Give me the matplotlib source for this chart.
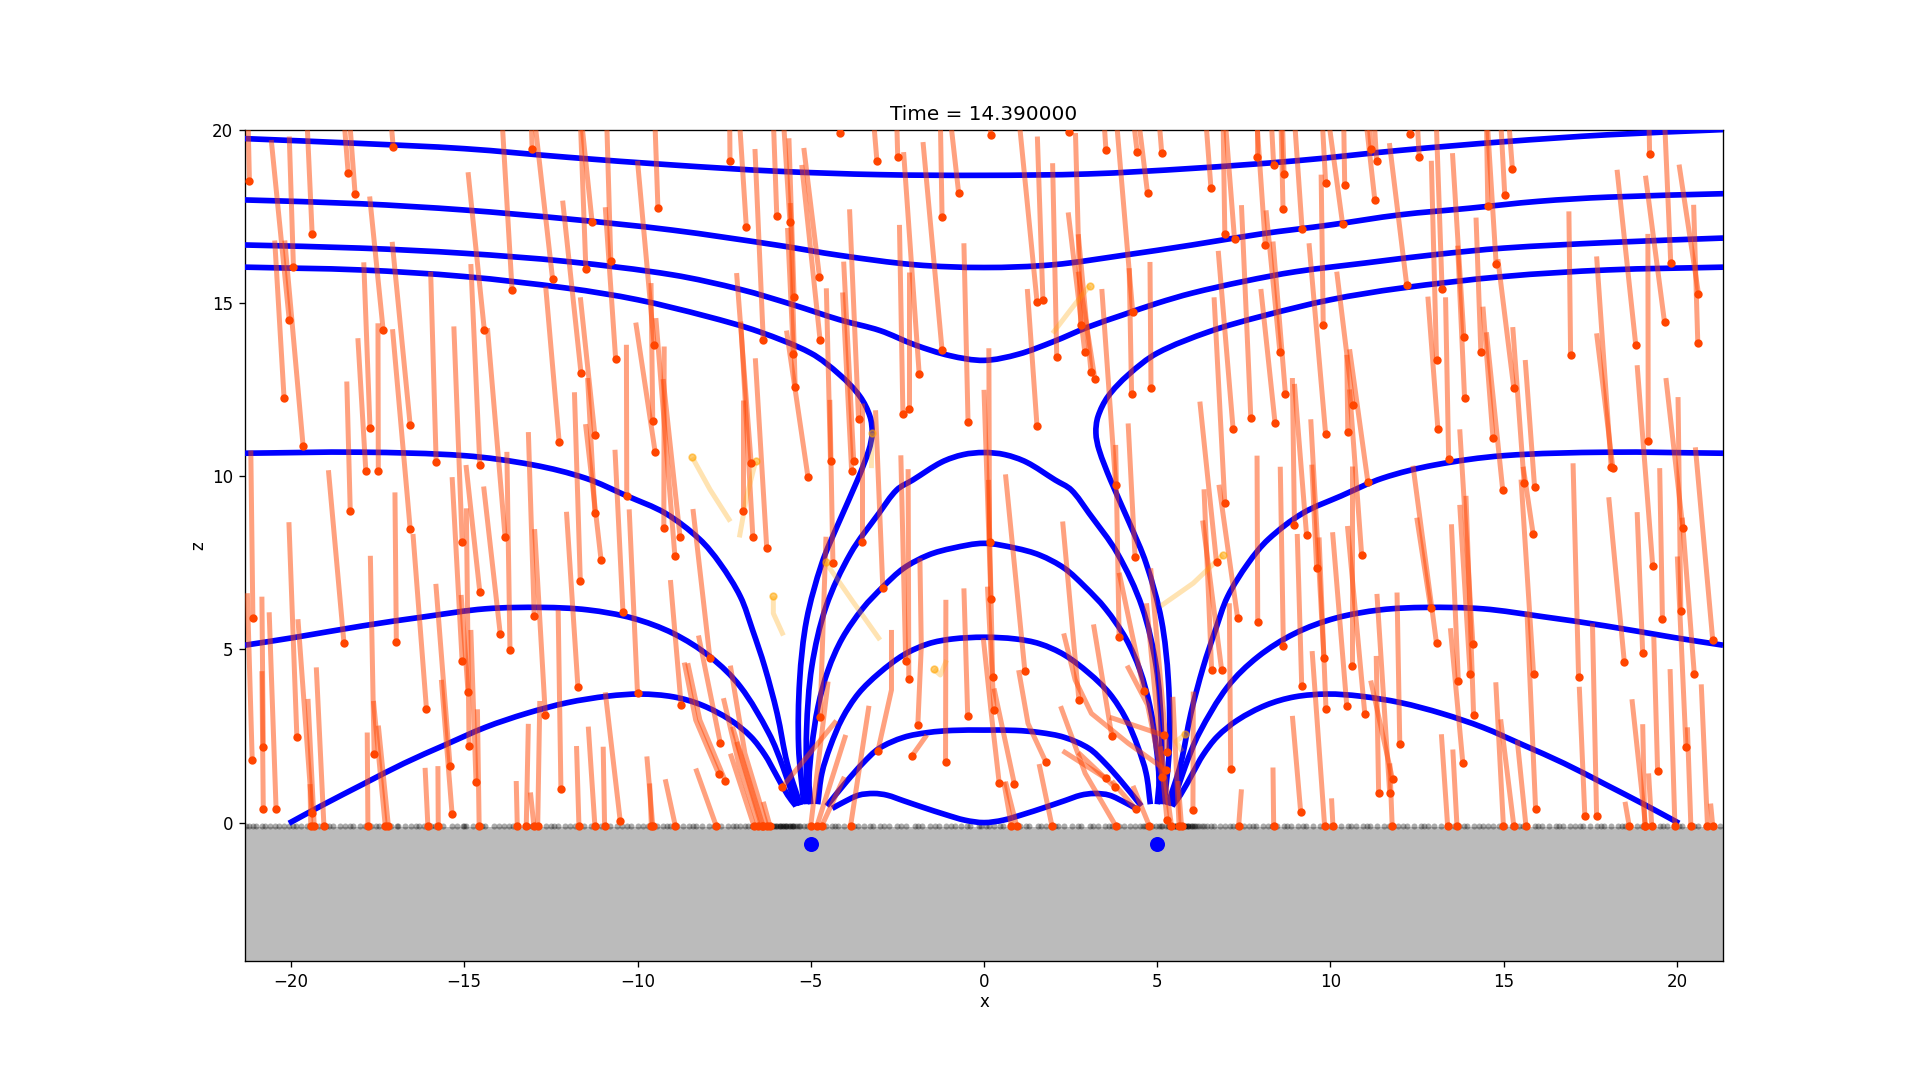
import matplotlib
matplotlib.use('Agg')
import matplotlib.pyplot as plt
from matplotlib.path import Path
from matplotlib.patches import PathPatch
import numpy as np

# particles: head position and the far end of the trail
head_x = [-21.2,-20.2,-20.05,-19.93,-19.65,-19.39,-18.35,-18.15,-17.72,-17.84,
 -17.48,-17.34,-17.05,-16.56,-15.81,-14.55,-14.42,-13.62,-13.04,-12.45,
 -12.26,-11.63,-11.31,-11.49,-11.23,-10.77,-10.63,-9.49,-9.56,-9.52,
 -9.41,-7.33,-6.86,-6.37,-6.72,-5.98,-5.6,-5.48,-5.5,-5.45,
 -4.75,-4.73,-5.08,-4.43,-4.16,-21.1,-18.29,-18.47,-16.56,-15.06,
 -15.06,-14.55,-13.96,-13.82,-13.68,-12.98,-11.65,-11.23,-10.31,-10.42,
 -9.24,-8.77,-8.92,-6.95,-6.67,-6.27,-3.09,-2.49,-0.73,-1.21,
 0.2,-1.21,-1.87,-2.34,-2.17,-3.62,-3.76,-3.82,-0.46,1.53,
 1.53,1.7,2.1,2.45,2.79,2.91,3.09,3.2,3.52,4.42,
 4.72,5.13,4.29,4.26,4.82,3.8,6.55,6.95,7.23,7.19,
 7.7,7.87,8.36,8.66,8.63,8.12,9.18,8.54,8.7,8.4,
 9.86,10.41,10.35,9.79,9.86,10.65,10.5,11.08,11.28,11.17,
 11.33,12.3,12.56,12.2,13.22,13.06,13.1,13.41,13.85,13.87,
 14.54,15.03,15.25,14.78,14.34,14.69,15.29,14.97,15.59,15.89,
 16.93,18.1,18.15,18.81,19.21,19.82,19.64,19.17,20.62,20.6,
 21.03,19.3,20.17,20.11,19.58,17.16,15.85,14.11,13.06,10.99,
 9.81,9.6,8.96,9.31,8.64,7.9,6.95,6.71,6.57,6.86,
 7.32,7.12,6.03,5.63,7.35,8.36,9.14,9.17,9.87,10.47,
 10.61,10.9,12.89,13.69,13.82,14.03,14.13,15.86,15.92,17.34,
 17.68,18.48,19.01,20.26,20.5,19.44,18.62,19.09,19.07,19.27,
 19.94,20.4,20.88,21.03,13.38,13.65,14.99,15.29,15.64,11.78,
 11.79,11.39,11.71,12.0,9.83,10.07,-7.91,-7.61,-8.74,-7.73,
 -6.64,-6.38,-6.18,-6.42,-5.82,-4.73,-5.0,-4.36,-3.52,-2.92,
 -2.26,-2.17,-2.09,-3.85,-1.11,-0.47,0.2,0.16,0.29,0.88,
 0.25,1.18,1.96,0.79,0.94,2.74,3.69,5.19,3.51,3.78,
 4.39,4.62,3.9,4.36,4.77,5.28,5.28,5.41,-4.68,-4.82,
 -21.12,-20.8,-20.8,-20.43,-19.83,-19.39,-19.33,-19.43,-19.05,-17.78,
 -17.6,-17.28,-17.19,-16.96,-16.09,-16.05,-15.75,-15.41,-15.35,-14.89,
 -14.86,-14.66,-14.57,-12.66,-12.21,-13.47,-13.21,-12.99,-12.88,-11.69,
 -11.23,-10.95,-10.5,-11.72,-11.05,-10.0,-9.56,-9.6,-8.91,5.7]
head_z = [18.52,12.25,14.5,16.04,10.86,17.0,18.74,18.14,11.38,10.14,
 10.14,14.21,19.5,11.47,10.4,10.33,14.21,15.37,19.44,15.68,
 10.98,12.97,17.33,15.97,11.18,16.2,13.37,10.69,11.58,13.78,
 17.73,19.08,17.2,13.92,10.37,17.5,17.33,15.16,13.52,12.57,
 15.76,13.92,9.97,10.43,19.9,5.9,9.0,5.17,8.47,8.09,
 4.65,6.65,5.44,8.23,4.97,5.95,6.96,8.93,9.43,6.09,
 8.49,8.23,7.68,8.99,8.23,7.92,19.09,19.22,18.16,17.47,
 19.84,13.63,12.94,11.79,11.95,11.64,10.43,10.15,11.55,11.44,
 15.03,15.08,13.43,19.94,14.37,13.58,12.99,12.8,19.41,19.35,
 18.16,19.32,14.75,12.36,12.54,9.75,18.31,16.98,16.84,11.35,
 11.69,19.2,18.97,18.72,17.7,16.66,17.13,13.58,12.36,11.53,
 18.45,18.39,17.27,14.37,11.21,12.05,11.27,9.82,17.96,19.45,
 19.09,19.87,19.22,15.51,15.4,13.34,11.35,10.5,14.01,12.24,
 17.79,18.1,18.86,16.13,13.58,11.09,12.54,9.6,9.79,9.68,
 13.49,10.27,10.23,13.78,19.29,16.14,14.44,11.01,15.26,13.85,
 5.28,7.4,8.49,6.1,5.87,4.19,8.32,5.15,5.17,3.14,
 4.74,7.34,8.59,8.29,5.09,5.8,9.22,7.51,4.39,4.39,
 5.9,1.54,0.35,-0.09,-0.09,-0.09,0.3,3.93,3.27,3.37,
 4.52,7.71,6.2,4.08,1.71,4.28,3.11,4.3,0.38,0.2,
 0.18,4.63,4.89,2.17,4.28,1.5,-0.09,-0.09,-0.09,-0.09,
 -0.09,-0.09,-0.09,-0.09,-0.09,-0.09,-0.09,-0.09,-0.09,-0.09,
 1.25,0.84,0.84,2.26,-0.09,-0.09,4.74,2.29,3.38,-0.09,
 -0.09,-0.09,-0.09,-0.09,1.03,3.04,-0.09,7.48,8.09,6.76,
 4.66,4.13,1.91,-0.09,1.74,3.07,6.44,8.11,3.25,1.1,
 4.19,4.37,-0.09,-0.09,-0.09,3.53,2.49,2.52,1.28,1.02,
 0.38,3.79,5.35,7.66,-0.09,0.07,2.03,-0.09,-0.09,-0.09,
 1.82,2.17,0.38,0.38,2.46,0.27,-0.09,-0.09,-0.09,-0.09,
 1.97,-0.09,-0.09,5.22,3.27,-0.09,-0.09,1.64,0.24,3.76,
 2.2,1.16,-0.09,3.11,0.98,-0.09,-0.09,-0.09,-0.09,-0.09,
 -0.09,-0.09,0.06,3.92,7.57,3.73,-0.09,-0.09,-0.09,-0.09]
tail_x = [-21.24,-20.47,-20.57,-20.05,-20.18,-19.54,-18.47,-18.31,-17.9,-18.07,
 -17.49,-17.73,-17.12,-17.08,-15.97,-14.81,-14.89,-13.91,-13.07,-12.97,
 -12.65,-12.16,-11.62,-11.65,-11.65,-10.89,-10.93,-10.05,-9.61,-10.0,
 -9.5,-7.34,-7.06,-6.61,-7.14,-6.08,-5.79,-5.63,-5.67,-5.59,
 -5.2,-5.26,-5.7,-4.55,-4.2,-21.16,-18.39,-18.92,-17.07,-15.3,
 -15.35,-14.95,-14.44,-14.33,-13.77,-13.15,-11.82,-11.44,-10.32,-10.65,
 -9.23,-9.26,-9.47,-6.95,-7.02,-6.6,-3.19,-2.52,-0.97,-1.26,
 0.15,-1.76,-2.32,-2.44,-2.17,-3.88,-4.05,-4.08,-0.58,1.25,
 1.01,1.54,1.98,2.4,2.64,2.43,2.72,2.72,3.46,4.31,
 4.46,5.05,3.82,4.19,4.79,3.4,6.4,6.9,6.96,6.76,
 7.43,7.87,8.29,8.61,8.57,7.87,8.96,8.14,8.34,7.99,
 9.76,10.38,9.94,9.73,9.38,10.18,10.47,10.55,11.02,11.11,
 11.26,12.27,12.5,11.7,13.05,12.91,12.81,13.32,13.52,13.67,
 14.5,14.91,15.14,14.52,14.2,14.4,14.83,14.5,15.26,15.62,
 16.88,17.68,17.68,18.27,19.19,19.64,19.09,19.16,20.06,20.48,
 20.53,18.85,19.68,20.03,19.5,17.0,15.56,13.73,12.38,10.49,
 9.43,9.46,8.9,8.96,8.55,7.88,6.64,6.23,6.35,6.31,
 6.78,7.08,6.04,5.45,7.43,8.34,8.9,9.04,9.67,10.06,
 10.61,10.55,12.49,13.49,13.46,13.73,13.91,15.5,15.67,17.18,
 17.56,18.03,18.85,20.01,20.15,19.33,18.5,18.7,19.01,19.18,
 19.8,20.3,20.7,20.97,13.2,13.53,14.77,14.91,15.39,11.71,
 11.16,11.32,11.34,11.92,9.47,10.03,-8.4,-8.24,-9.05,-8.32,
 -7.32,-7.26,-6.37,-7.14,-4.26,-4.56,-4.5,-4.45,-3.52,-3.13,
 -2.4,-2.19,-1.65,-3.32,-1.1,-0.58,0.0,0.14,0.1,0.29,
 0.13,0.62,1.59,0.57,0.62,2.27,3.16,3.63,2.27,2.72,
 3.69,3.9,3.8,4.16,4.3,4.69,4.81,5.1,-4.03,-3.99,
 -21.26,-20.84,-20.84,-20.63,-20.06,-19.8,-19.51,-19.45,-19.27,-17.8,
 -17.71,-17.62,-17.48,-17.0,-16.48,-16.13,-15.76,-15.82,-15.66,-15.09,
 -14.94,-14.81,-14.62,-12.97,-12.29,-13.5,-13.15,-13.09,-12.82,-11.76,
 -11.42,-10.99,-10.93,-12.05,-11.5,-10.24,-9.73,-9.65,-9.2,5.6]
tail_z = [20.3,16.8,19.7,19.8,16.8,20.3,20.3,20.3,16.17,13.98,
 14.41,18.07,20.3,16.76,15.9,16.12,18.77,20.3,20.3,20.3,
 15.47,17.95,20.3,20.3,15.16,20.3,17.76,14.43,15.57,19.1,
 20.3,20.3,20.3,19.44,15.86,20.3,20.3,19.75,17.16,17.88,
 19.47,18.98,14.2,15.42,20.3,10.74,12.73,10.17,14.24,14.32,
 9.97,10.32,9.7,14.27,10.7,11.27,12.42,12.83,13.79,10.76,
 13.74,12.8,14.56,12.2,14.46,13.4,20.3,20.3,20.3,20.3,
 20.3,19.64,19.35,17.25,15.9,17.7,16.19,15.3,16.72,15.4,
 20.3,19.8,19.03,20.3,19.9,17.61,16.98,15.9,20.3,20.3,
 20.3,20.3,20.3,16.0,16.18,15.4,20.3,20.3,20.3,16.5,
 17.82,20.3,20.3,20.3,20.3,20.3,20.3,17.67,16.77,15.4,
 20.3,20.3,20.3,18.7,16.72,15.9,13.5,13.66,20.3,20.3,
 20.3,20.3,20.3,19.61,20.3,19.1,15.18,15.16,19.32,16.65,
 20.3,20.3,20.3,20.3,17.46,14.89,16.26,14.15,14.3,13.35,
 17.64,16.34,14.12,18.84,20.3,20.3,18.67,16.99,18.99,17.83,
 10.83,13.2,12.83,12.28,10.23,10.37,10.27,11.35,10.3,8.56,
 11.64,10.33,12.83,12.66,10.27,10.59,15.16,12.15,9.62,8.72,
 9.75,6.33,3.78,3.63,0.96,1.59,3.08,8.33,8.23,8.38,
 10.3,12.5,8.8,8.61,5.61,9.17,9.43,9.9,6.09,3.92,
 5.75,9.39,8.96,7.68,8.8,5.37,0.6,3.56,2.84,1.42,
 4.43,2.75,3.99,0.55,2.55,2.11,4.05,2.98,2.38,1.71,
 4.1,4.81,6.6,6.64,4.95,0.7,9.05,5.4,7.0,1.56,
 1.99,2.77,0.6,2.33,2.94,8.25,4.07,12.2,12.1,11.9,
 10.6,10.2,2.53,3.37,6.43,6.76,12.49,13.69,6.81,3.87,
 9.89,10.05,1.69,1.18,1.18,8.69,5.72,3.04,2.07,2.02,
 1.2,7.21,10.9,11.52,1.06,6.33,7.34,2.2,1.32,2.53,
 6.62,6.52,4.37,6.07,8.67,5.87,3.57,1.11,4.48,2.6,
 7.7,3.51,2.8,9.53,8.33,1.58,1.63,6.89,4.12,6.57,
 9.07,5.56,3.27,8.47,6.14,1.2,2.85,0.87,3.51,2.21,
 2.77,2.19,3.76,8.97,11.5,9.04,1.91,1.13,1.25,1.2]

# bent trails, head first
bent_x = [[-7.65,-8.32,-8.65],[-7.47,-8.2,-8.55],[-6.51,-7.08,-7.52],[-6.27,-6.9,-7.32],
 [-1.91,-1.81,-1.85],[-3.06,-2.67,-2.67],[0.44,0.21,-0.02],[1.79,1.27,1.0],
 [5.24,4.16,3.1,2.63,2.3],[5.14,4.72,4.13],[3.8,2.92,2.21]]
bent_z = [[1.39,2.96,4.62],[1.21,2.96,4.6],[-0.09,1.71,3.59],[-0.09,2.0,4.53],
 [2.81,5.08,7.63],[2.08,3.83,5.56],[1.13,3.15,5.32],[1.74,2.86,4.4],
 [1.52,2.29,3.15,4.12,5.46],[1.32,3.4,4.53],[-0.09,1.42,3.36]]

# the few pale particles, head first
pale_x = [[-8.42,-7.9,-7.32],[-6.59,-6.85,-7.06],[-6.08,-6.08,-5.79],[-4.57,-3.8,-3.0],
 [-1.45,-1.26,-1.08],[6.9,6.04,5.1],[5.81,5.54,5.72],[-3.24,-3.25],[3.05,2.5,1.98]]
pale_z = [[10.54,9.6,8.69],[10.43,9.41,8.23],[6.53,6.04,5.4],[7.51,6.4,5.27],
 [4.42,4.26,4.69],[7.73,6.91,6.25],[2.55,2.34,2.05],[11.24,10.23],[15.5,14.8,14.12]]

ground_x = [-21.3,-21.2,-21.1,-21.0,-20.85,-20.75,-20.6,-20.45,-20.35,-20.2,-20.05,-19.95,-19.85,-19.7,-19.55,-19.45,-19.35,-19.2,-19.0,-18.9,
 -18.8,-18.6,-18.45,-18.3,-18.2,-18.0,-17.85,-17.7,-17.55,-17.45,-17.3,-17.1,-16.95,-16.9,-16.7,-16.55,-16.4,-16.3,-16.15,
 -15.95,-15.85,-15.75,-15.6,-15.35,-15.2,-15.05,-15.0,-14.95,-14.75,-14.6,-14.5,-14.4,-14.15,-14.0,-13.85,-13.7,-13.6,-13.45,
 -13.25,-13.15,-13.05,-12.9,-12.65,-12.5,-12.4,-12.3,-12.1,-11.95,-11.8,-11.7,-11.55,-11.35,-11.2,-11.05,-10.95,-10.8,-10.6,
 -10.45,-10.3,-10.2,-10.0,-9.85,-9.7,-9.6,-9.45,-9.25,-9.15,-9.05,-8.85,-8.7,-8.5,-8.4,-8.3,-8.15,-7.95,-7.8,-7.7,-7.6,-7.4,
 -7.25,-7.15,-7.05,-6.9,-6.8,-6.7,-6.65,-6.6,-6.55,-6.5,-6.45,-6.4,-6.35,-6.3,-6.25,-6.2,-6.15,-6.15,-6.1,-6.05,-6.0,-6.0,
 -5.95,-5.9,-5.9,-5.85,-5.8,-5.8,-5.75,-5.7,-5.7,-5.65,-5.6,-5.6,-5.55,-5.5,-5.5,-5.45,-5.4,-5.35,
 -5.3,-5.2,-5.1,-5.0,-4.85,-4.7,-4.55,-4.4,-4.3,-4.2,-4.05,-3.85,-3.75,-3.65,-3.45,-3.3,-3.2,-3.0,-2.9,-2.75,-2.5,-2.4,-2.25,
 -2.0,-1.9,-1.8,-1.55,-1.4,-1.3,-1.1,-0.95,-0.85,-0.65,-0.5,-0.4,-0.15,-0.1,0.05,0.15,0.3,0.45,0.55,0.8,0.9,1.05,1.2,1.3,1.55,1.65,1.8,2.05,2.15,
 2.3,2.55,2.7,2.8,3.05,3.15,3.3,3.5,3.6,3.7,3.9,4.05,4.2,4.35,4.5,4.6,4.65,4.7,4.8,4.85,4.95,5.05,5.1,5.15,5.25,5.3,5.35,5.4,
 5.4,5.45,5.5,5.5,5.55,5.6,5.6,5.65,5.7,5.7,5.75,5.8,5.8,5.85,5.9,5.9,5.95,6.0,6.0,6.05,6.1,6.15,
 6.2,6.3,6.35,6.45,6.55,6.65,6.8,6.95,7.1,7.2,7.3,7.5,7.65,7.75,7.85,8.05,8.2,8.3,8.45,8.65,8.75,8.85,9.05,9.2,9.3,9.5,
 9.7,9.85,10.0,10.1,10.3,10.5,10.6,10.75,10.95,11.05,11.15,11.35,11.55,11.7,11.8,11.95,12.1,12.2,12.4,12.6,12.7,12.8,13.0,13.2,
 13.4,13.55,13.7,13.85,13.95,14.15,14.3,14.4,14.55,14.7,14.85,14.95,15.05,15.25,15.45,15.55,15.65,15.9,16.0,16.1,16.3,16.5,
 16.6,16.7,16.9,17.05,17.2,17.3,17.5,17.7,17.8,17.9,18.1,18.3,18.4,18.5,18.65,18.85,19.0,19.1,19.3,19.5,19.6,19.7,19.95,20.05,20.15,
 20.4,20.5,20.6,20.85,20.95,21.05,21.25]

# field lines, x<0 half for the mirrored ones
top1_x = [-21.33,-18,-15,-12,-9,-6,-3,0,3,6,9,12,15,18,21.33]
top1_z = [19.74,19.6,19.45,19.2,18.98,18.8,18.7,18.68,18.72,18.88,19.1,19.4,19.65,19.85,20.0]
top2_x = [-21.33,-18,-15,-12,-9,-6,-4.16,-2,0,2,4,6,8,10,12,14,16,18,21.33]
top2_z = [17.97,17.86,17.68,17.42,17.1,16.67,16.37,16.1,16.02,16.1,16.37,16.67,16.99,17.25,17.54,17.73,17.93,18.05,18.15]
top3_x = [-21.33,-18,-15,-12,-9,-7,-5.5,-4.16,-3,-2,-1,0,1,2,3,4,5,6,7.5,9,11,13,15,18,21.33]
top3_z = [16.67,16.58,16.43,16.19,15.81,15.38,14.94,14.51,14.2,13.79,13.48,13.34,13.52,13.88,14.3,14.65,14.99,15.28,15.62,15.9,16.15,16.39,16.58,16.74,16.87]
sep_x = [-21.33,-18,-15,-12,-10,-8,-6.5,-5,-4.16,-3.58,-3.29,-3.23,-3.32,-3.65,-4.2,-4.68,-5.12,-5.32,-5.35,-5.2]
sep_z = [16.03,15.95,15.76,15.42,15.09,14.61,14.17,13.55,12.92,12.3,11.72,11.24,10.76,9.89,8.64,7.48,5.85,4.11,2.19,0.53]
out1_x = [-21.33,-18,-15,-13,-11.5,-10.31,-9.2,-8.21,-7.62,-7.03,-6.68,-6.33,-5.97,-5.68,-5.3]
out1_z = [10.66,10.69,10.59,10.32,9.94,9.43,8.93,8.18,7.48,6.52,5.56,4.5,3.15,1.71,0.5]
out2_x = [-21.33,-19.92,-17.92,-16.15,-14.39,-12.74,-11.44,-10.14,-8.97,-7.91,-7.03,-6.21,-5.8,-5.42]
out2_z = [5.12,5.34,5.68,5.94,6.17,6.21,6.14,5.9,5.46,4.79,3.92,2.58,1.6,0.47]
out3_x = [-20.06,-19.1,-17.92,-16.74,-15.56,-14.39,-13.21,-12.03,-10.85,-9.91,-8.97,-8.14,-7.32,-6.73,-6.32,-6.02,-5.67,-5.43]
out3_z = [-0.02,0.5,1.11,1.71,2.24,2.75,3.15,3.46,3.65,3.71,3.63,3.39,2.96,2.48,1.95,1.42,0.8,0.48]
arc1_x = [-5.12,-5.12,-4.97,-4.56,-3.85,-3.03,-2.52,-2.05,-1.23,-0.6,0,0.6,1.23,2.05,2.52,3.03,3.85,4.56,4.97,5.12,5.12]
arc1_z = [0.53,2.67,4.5,6.23,7.77,8.93,9.6,9.89,10.4,10.62,10.68,10.62,10.4,9.89,9.6,8.93,7.77,6.23,4.5,2.67,0.53]
arc2_x = [-5.0,-5.05,-4.97,-4.79,-4.5,-4.09,-3.5,-2.91,-2.32,-1.61,-0.91,0,0.91,1.61,2.32,2.91,3.5,4.09,4.5,4.79,4.97,5.05,5.0]
arc2_z = [0.53,1.23,2.19,3.35,4.4,5.32,6.18,6.81,7.34,7.72,7.92,8.06,7.92,7.72,7.34,6.81,6.18,5.32,4.4,3.35,2.19,1.23,0.53]
arc3_x = [-4.8,-4.68,-4.44,-4.09,-3.62,-3.03,-2.32,-1.61,-0.91,0,0.91,1.61,2.32,3.03,3.62,4.09,4.44,4.68,4.8]
arc3_z = [0.53,1.42,2.19,3.01,3.73,4.31,4.84,5.16,5.3,5.35,5.3,5.16,4.84,4.31,3.73,3.01,2.19,1.42,0.53]
arc4_x = [-4.54,-3.97,-3.5,-3.03,-2.32,-1.61,-0.91,0,0.91,1.61,2.32,3.03,3.5,3.97,4.54]
arc4_z = [0.48,1.18,1.71,2.14,2.46,2.6,2.66,2.67,2.66,2.6,2.46,2.14,1.71,1.18,0.48]
arc5_x = [-4.38,-4.09,-3.62,-3.18,-2.79,-2.32,-1.73,-1.14,-0.55,0,0.55,1.14,1.73,2.32,2.79,3.18,3.62,4.09,4.38]
arc5_z = [0.41,0.57,0.79,0.84,0.79,0.63,0.43,0.24,0.07,0.0,0.07,0.24,0.43,0.63,0.79,0.84,0.79,0.57,0.41]

dipole_x = [-5, 5]
dipole_z = [-0.62, -0.62]


def field_line(ax, x, z):
    # bezier through the read points so the curve isn't drawn as a polygon
    p = np.column_stack([x, z])
    d = np.linalg.norm(np.diff(p, axis=0), axis=1)
    t = np.zeros_like(p)
    t[1:-1] = (p[2:] - p[:-2]) / (d[:-1] + d[1:])[:, None]
    t[0] = (p[1] - p[0]) / d[0]
    t[-1] = (p[-1] - p[-2]) / d[-1]
    verts = [p[0]]
    codes = [Path.MOVETO]
    for i in range(len(d)):
        verts += [p[i] + t[i]*d[i]/3, p[i+1] - t[i+1]*d[i]/3, p[i+1]]
        codes += [Path.CURVE4]*3
    ax.add_patch(PathPatch(Path(verts, codes), fill=False, edgecolor='b', lw=3.4, capstyle='butt', zorder=3))


plt.rcParams['font.family'] = 'DejaVu Sans'
fig, ax = plt.subplots(figsize=(16, 9), dpi=120)

ax.axhspan(-4, -0.13, color='#bbbbbb', lw=0, zorder=1)
ax.plot(ground_x, [-0.1]*len(ground_x), 'o', color='k', ms=3.6, mew=0, alpha=0.33, zorder=2)

for x, z in [(top1_x, top1_z), (top2_x, top2_z), (top3_x, top3_z),
             (arc1_x, arc1_z), (arc2_x, arc2_z), (arc3_x, arc3_z), (arc4_x, arc4_z), (arc5_x, arc5_z)]:
    field_line(ax, x, z)
for x, z in [(sep_x, sep_z), (out1_x, out1_z), (out2_x, out2_z), (out3_x, out3_z)]:
    field_line(ax, x, z)
    field_line(ax, -np.array(x), z)

for hx, hz, tx, tz in zip(head_x, head_z, tail_x, tail_z, strict=True):
    ax.plot([hx, tx], [hz, tz], color='orangered', lw=3, alpha=0.5, solid_capstyle='butt', zorder=4)
for x, z in zip(bent_x, bent_z):
    ax.plot(x, z, color='orangered', lw=3, alpha=0.5, solid_capstyle='butt', zorder=4)
for x, z in zip(pale_x, pale_z):
    ax.plot(x, z, color='orange', lw=3, alpha=0.3, solid_capstyle='butt', zorder=4)
    ax.plot(x[0], z[0], 'o', color='orange', ms=4, alpha=0.55, zorder=4)

ax.plot(head_x, head_z, 'o', color='orangered', ms=4, zorder=5)
ax.plot([b[0] for b in bent_x], [b[0] for b in bent_z], 'o', color='orangered', ms=4, zorder=5)

ax.plot(dipole_x, dipole_z, 'o', color='b', ms=8, zorder=6)

ax.set_aspect('equal')
ax.set_xlim(-21.33, 21.33)
ax.set_ylim(-4, 20)
ax.set_xticks([-20, -15, -10, -5, 0, 5, 10, 15, 20])
ax.set_yticks([0, 5, 10, 15, 20])
ax.set_xlabel('x', labelpad=1)
ax.set_ylabel('z', labelpad=3)
ax.set_title('Time = 14.390000')

fig.savefig('out.png')
